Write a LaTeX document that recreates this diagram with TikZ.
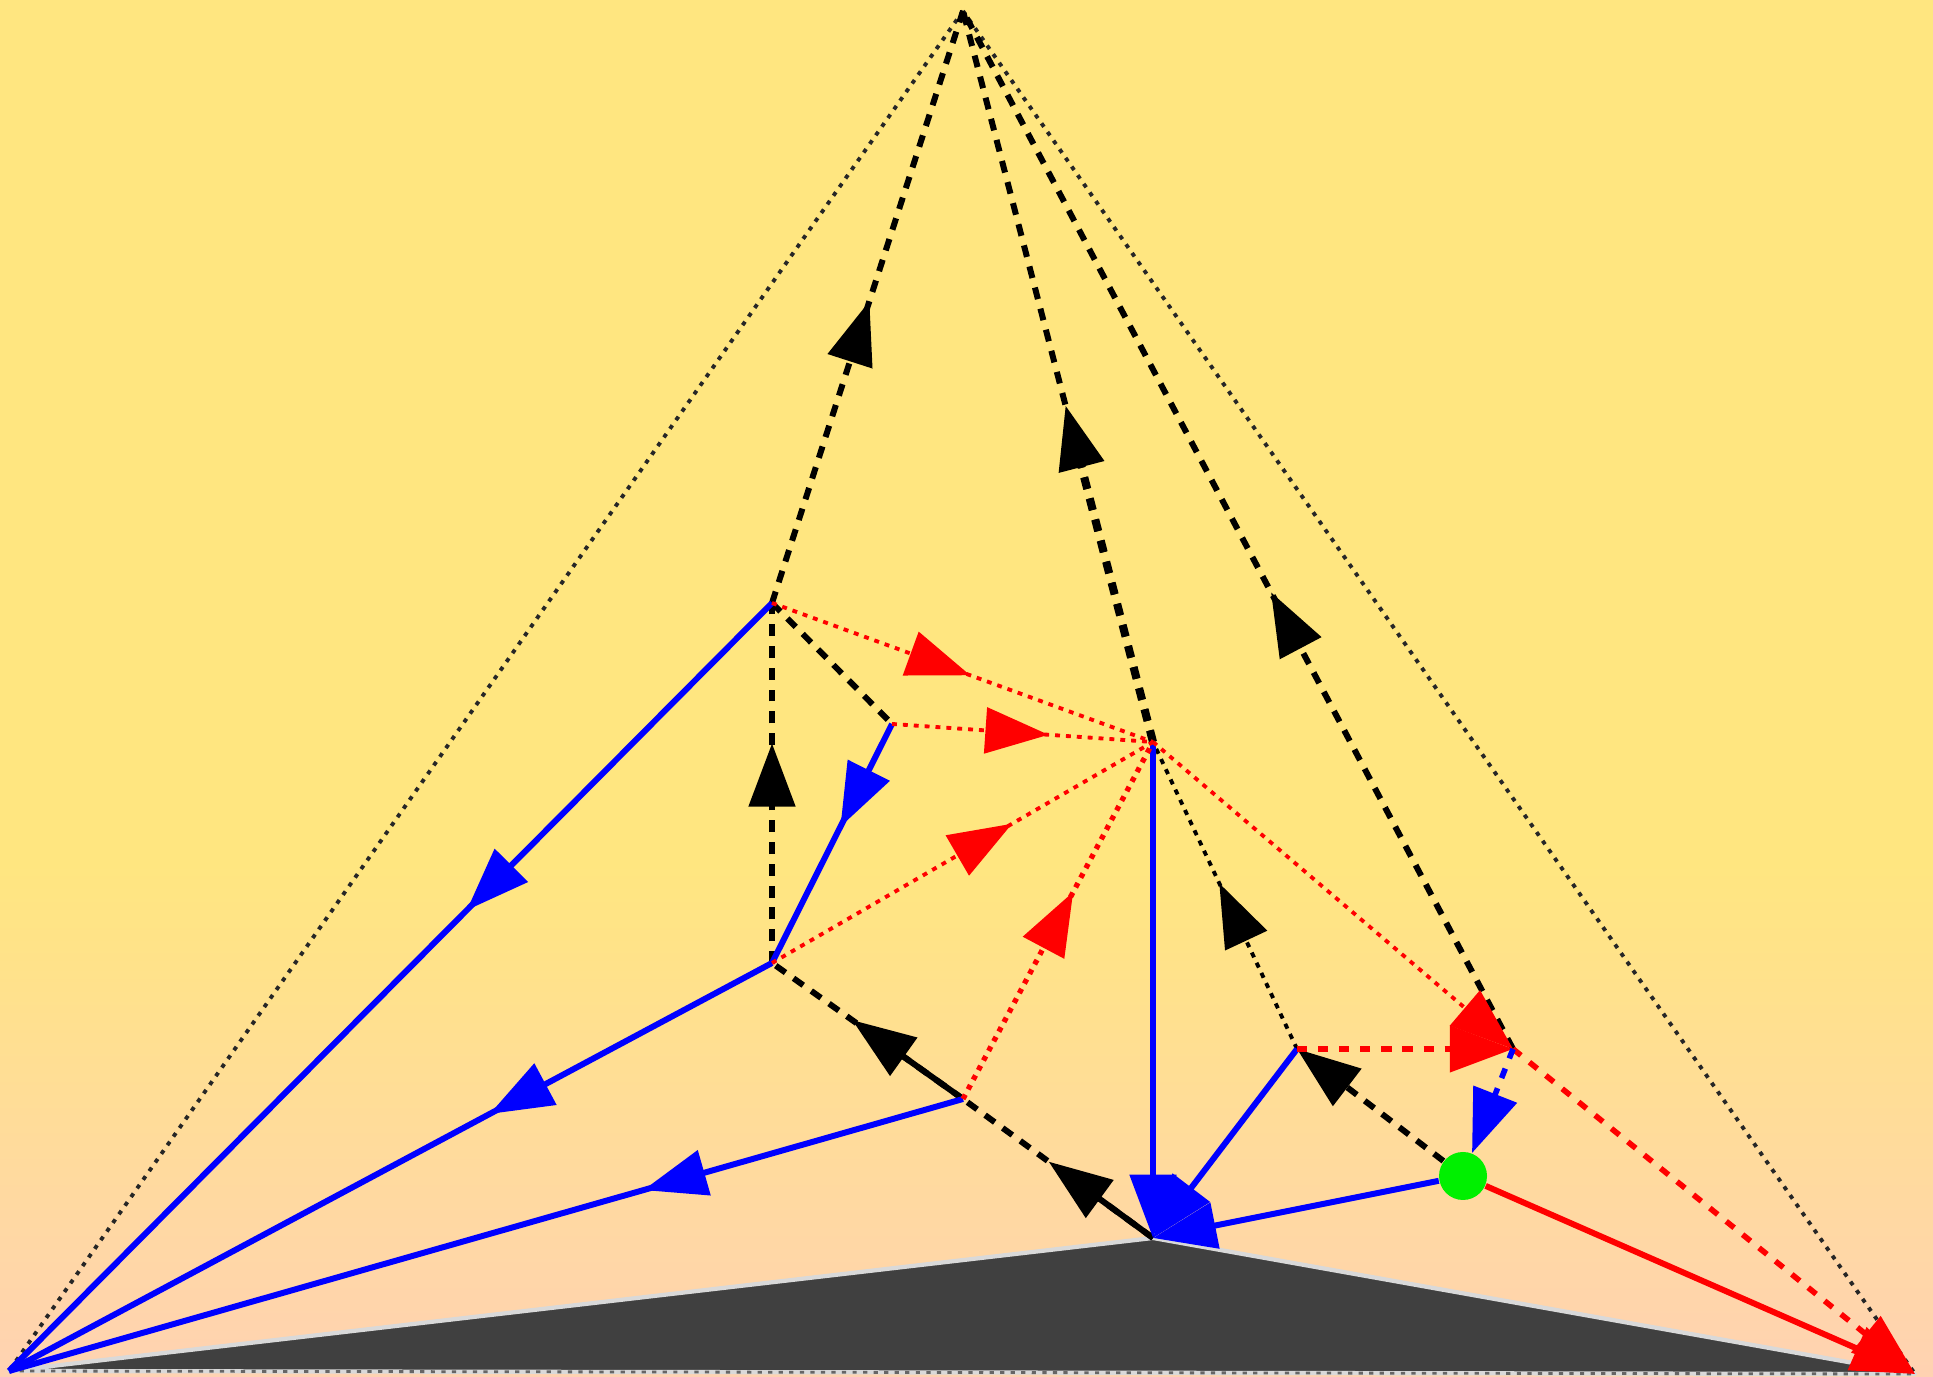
\documentclass[tikz,border=0pt]{standalone}
\usepackage{tikz}
\usetikzlibrary{arrows.meta, decorations.markings, calc}
\definecolor{lightyellow}{RGB}{255, 230, 128}
\definecolor{lightpeach}{RGB}{255, 210, 178}
\definecolor{darkgrey}{RGB}{64, 64, 64}
\definecolor{pureblue}{RGB}{0, 0, 255}
\definecolor{purered}{RGB}{255, 0, 0}
\definecolor{puregreen}{RGB}{0, 240, 0}

\tikzset{
  head/.tip={Triangle[length=18pt, width=13pt]},
  midhead/.style={postaction={decorate, decoration={markings,
      mark=at position #1 with {\arrow{head}}}}},
  blueline/.style={pureblue, line width=1.7pt},
  bluedash/.style={pureblue, line width=1.6pt, dash pattern=on 2.9pt off 3.1pt},
  redline/.style={purered, line width=1.7pt},
  reddash/.style={purered, line width=1.6pt, dash pattern=on 2.9pt off 3.1pt},
  reddot/.style={purered, line width=1.1pt, dash pattern=on 1.4pt off 1.7pt},
  blackdash/.style={black, line width=1.7pt, dash pattern=on 3.4pt off 2.8pt},
  blackdot/.style={black, line width=1.1pt, dash pattern=on 1.5pt off 1.7pt},
  hulldot/.style={black!85, line width=1.1pt, dash pattern=on 1.2pt off 1.8pt},
  vertex/.style={circle, fill=puregreen, minimum size=4.8mm, inner sep=0pt}
}

\begin{document}
\begin{tikzpicture}[x=0.1mm, y=0.1mm]

  \fill[lightyellow] (0, 0) rectangle (1933, 1377);
  \shade[top color=lightyellow, bottom color=lightpeach] (0, 0) rectangle (1933, 514);
  \useasboundingbox (0, 0) rectangle (1933, 1377);

  \coordinate (T) at (963, 1366);
  \coordinate (L) at (9, 6);
  \coordinate (R) at (1915, 3);
  \coordinate (M) at (1153, 139);
  \coordinate (A) at (772, 774);
  \coordinate (B) at (892, 653);
  \coordinate (C) at (1153, 635);
  \coordinate (D) at (772, 414);
  \coordinate (E) at (963, 278);
  \coordinate (F) at (1297, 328);
  \coordinate (G) at (1513, 328);

  \fill[darkgrey, draw=black!15, line width=1.2pt, line join=round]
    (L) -- (M) -- (R) -- cycle;
  \draw[hulldot] (T) -- (L);
  \draw[hulldot] (T) -- (R);
  \draw[hulldot, black!60, line width=0.8pt] (L) -- (R);

  \node[vertex] (H) at (1463, 201) {};

  % black edges
  \draw[blackdash, midhead=0.51] (A) -- (T);
  \draw[blackdash, midhead=0.46] (C) -- (T);
  \draw[blackdash, line width=2.3pt] (C) -- ($(C)!0.4!(T)$);
  \draw[blackdash, midhead=0.44] (G) -- (T);
  \draw[blackdash, midhead=0.61] (D) -- (A);
  \draw[blackdash] (A) -- (B);
  \draw[blackdash, midhead=0.58] (E) -- (D);
  \draw[black, line width=1.7pt] (E) -- ($(E)!0.5!(D)$);
  \draw[blackdash, midhead=0.55] (M) -- (E);
  \draw[black, line width=1.7pt] (M) -- ($(M)!0.5!(E)$);
  \draw[blackdash, -head] (H) -- (F);
  \draw[blackdot, midhead=0.54] (F) -- (C);

  % blue edges
  \draw[blueline, midhead=0.40] (A) -- (L);
  \draw[blueline, midhead=0.37] (D) -- (L);
  \draw[blueline, midhead=0.335] (E) -- (L);
  \draw[blueline, midhead=0.43] (B) -- (D);
  \draw[blueline, -head] (C) -- (M);
  \draw[blueline, -head] (F) -- (M);
  \draw[blueline, -head] (H) -- (M);

  % red edges
  \draw[reddot, midhead=0.52] (A) -- (C);
  \draw[reddot, midhead=0.60] (B) -- (C);
  \draw[reddot, midhead=0.63] (D) -- (C);
  \draw[reddot, line width=1.5pt, midhead=0.58] (E) -- (C);
  \draw[reddot, -head] (C) -- (G);
  \draw[reddash, -head] (F) -- (G);
  \draw[reddash, -head] (G) -- (R);
  \draw[redline, -head] (H) -- (R);

  \draw[bluedash, -head] (G) -- (H);

\end{tikzpicture}
\end{document}
